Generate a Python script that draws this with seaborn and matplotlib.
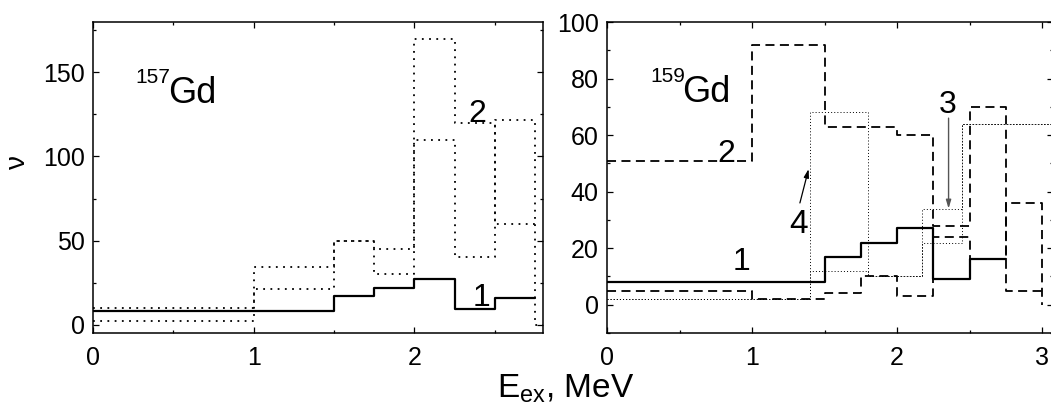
import numpy as np
import pandas as pd
import matplotlib
matplotlib.use("Agg")
import matplotlib.pyplot as plt
from matplotlib.ticker import MultipleLocator
import seaborn as sns

# ---- data -------------------------------------------------------------
# 157Gd : bin edges (MeV) and level-density values
edges_157 = [0, 1.0, 1.5, 1.75, 2.0, 2.25, 2.5, 2.75, 3.0]
solid_157 = [8, 8, 17, 22, 27, 9, 16]
band_hi_157 = [10, 34, 50, 45, 170, 120, 60]
band_lo_157 = [2, 21, 50, 30, 110, 40, 122, 0]

# 159Gd
edges_159 = [0, 1.0, 1.5, 1.75, 2.0, 2.25, 2.5, 2.75, 3.0]
solid_159 = [8, 8, 17, 22, 27, 9, 16]
dash_a_159 = [51, 92, 63, 63, 60, 28, 70, 5]
dash_b_159 = [5, 2, 4, 10, 3, 24, 16, 36, 0]
edges_thin_159 = [0, 1.4, 1.8, 2.17, 2.45, 3.2]
thin_a_159 = [2, 68, 10, 34, 64]
thin_b_159 = [2, 12, 10, 22, 64]

panel_names = ["157", "159"]
number_labels_157 = ["1", "2"]
number_labels_159 = ["1", "2", "3", "4"]


def step_xy(edges, values):
    """Histogram-style step path; a value past the last bin closes
    the path with a vertical drop at the final edge."""
    xs, ys = [], []
    for i, v in enumerate(values):
        if i + 1 < len(edges):
            xs += [edges[i], edges[i + 1]]
            ys += [v, v]
        else:
            xs.append(edges[i])
            ys.append(v)
    return pd.DataFrame({"E": xs, "nu": ys})


def draw_step(ax, edges, values, **kw):
    df = step_xy(edges, values)
    sns.lineplot(data=df, x="E", y="nu", sort=False, estimator=None,
                 ax=ax, color="black", legend=False, **kw)


# ---- style -------------------------------------------------------------
sns.set_style("ticks")
plt.rcParams["font.family"] = ["Liberation Sans", "DejaVu Sans"]
plt.rcParams["mathtext.fontset"] = "custom"
plt.rcParams["mathtext.rm"] = "Liberation Sans"
plt.rcParams["mathtext.it"] = "Liberation Sans"
plt.rcParams["axes.linewidth"] = 1.1
for key in ("text.color", "axes.labelcolor", "xtick.color", "ytick.color",
            "xtick.labelcolor", "ytick.labelcolor", "axes.edgecolor"):
    plt.rcParams[key] = "black"

W, H = 1051, 411
fig = plt.figure(figsize=(W / 100, H / 100), dpi=100)
ax1 = fig.add_axes([93 / W, 78 / H, 450 / W, 311 / H])
ax2 = fig.add_axes([607 / W, 78 / H, 446 / W, 311 / H])

solid_kw = dict(linewidth=1.6, linestyle="-")
dotted_kw = dict(linewidth=1.3, linestyle=(0, (1, 3)))
dashed_kw = dict(linewidth=1.3, linestyle=(0, (5, 3)))
fine_kw = dict(linewidth=0.7, linestyle=(0, (1, 2.2)))

# left panel: 157Gd
draw_step(ax1, edges_157, solid_157, **solid_kw)
draw_step(ax1, edges_157, band_hi_157, **dotted_kw)
draw_step(ax1, edges_157, band_lo_157, **dotted_kw)

# right panel: 159Gd
draw_step(ax2, edges_159, solid_159, **solid_kw)
draw_step(ax2, edges_159, dash_a_159, **dashed_kw)
draw_step(ax2, edges_159, dash_b_159, **dashed_kw)
draw_step(ax2, edges_thin_159, thin_a_159, **fine_kw)
draw_step(ax2, edges_thin_159, thin_b_159, **fine_kw)

# ---- axes --------------------------------------------------------------
ax1.set_xlim(0, 2.8)
ax1.set_ylim(-5, 180)
ax1.xaxis.set_major_locator(MultipleLocator(1))
ax1.xaxis.set_minor_locator(MultipleLocator(0.5))
ax1.yaxis.set_major_locator(MultipleLocator(50))
ax1.yaxis.set_minor_locator(MultipleLocator(25))

ax2.set_xlim(0, 3.075)
ax2.set_ylim(-10, 100)
ax2.xaxis.set_major_locator(MultipleLocator(1))
ax2.xaxis.set_minor_locator(MultipleLocator(0.5))
ax2.yaxis.set_major_locator(MultipleLocator(20))
ax2.yaxis.set_minor_locator(MultipleLocator(10))

for ax in (ax1, ax2):
    ax.tick_params(which="both", direction="in", top=True, right=True,
                   width=0.9, colors="black")
    ax.tick_params(which="major", length=4, labelsize=18)
    ax.tick_params(axis="x", which="major", pad=9)
    ax.tick_params(axis="y", which="major", pad=6)
    ax.tick_params(which="minor", length=2.5)
    ax.set_xlabel("")
    ax.set_ylabel("")

fig.text(18 / W, 1 - 162 / H, "ν", fontsize=20, rotation=90,
         ha="center", va="center")
fig.text(566 / W, 13 / H, r"E$_{\rm ex}$, MeV", fontsize=24,
         ha="center", va="baseline")

# ---- annotations -------------------------------------------------------
ax1.text(0.262, 144, panel_names[0], fontsize=15, ha="left", va="baseline")
ax1.text(0.467, 132, "Gd", fontsize=26, ha="left", va="baseline")
ax1.text(2.42, 10.9, number_labels_157[0], fontsize=23, ha="center", va="baseline")
ax1.text(2.39, 120.6, number_labels_157[1], fontsize=23, ha="center", va="baseline")

ax2.text(0.297, 78.8, panel_names[1], fontsize=15, ha="left", va="baseline")
ax2.text(0.515, 71.8, "Gd", fontsize=26, ha="left", va="baseline")
ax2.text(0.929, 12.4, number_labels_159[0], fontsize=23, ha="center", va="baseline")
ax2.text(0.826, 50.6, number_labels_159[1], fontsize=23, ha="center", va="baseline")
ax2.text(2.35, 67.9, number_labels_159[2], fontsize=23, ha="center", va="baseline")
ax2.text(1.32, 25.3, number_labels_159[3], fontsize=24, ha="center", va="baseline")

ax2.annotate("", xy=(2.355, 34), xytext=(2.355, 66),
             arrowprops=dict(arrowstyle="-|>,head_length=0.5,head_width=0.15",
                             color="#555555", lw=1.0, shrinkA=0, shrinkB=0))
ax2.annotate("", xy=(1.39, 48), xytext=(1.33, 36),
             arrowprops=dict(arrowstyle="-|>,head_length=0.5,head_width=0.15",
                             color="black", lw=0.9, shrinkA=0, shrinkB=0))

fig.savefig("out.png", dpi=100)
